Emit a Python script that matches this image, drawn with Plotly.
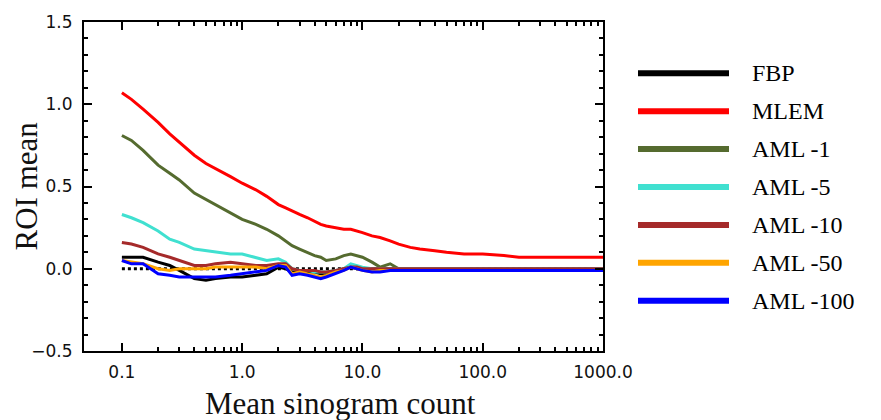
import plotly.graph_objects as go

# ---- data ----
counts = [0.1, 0.12, 0.15, 0.2, 0.25, 0.3, 0.4, 0.5, 0.6, 0.8, 1.0, 1.3, 1.6, 2.0, 2.3, 2.6,
          3.0, 3.5, 4.0, 4.5, 5, 6, 7, 8, 9, 10, 12, 14, 17, 20, 25, 30, 40, 50, 70, 100,
          150, 200, 300, 500, 1000]

fbp = [0.07, 0.07, 0.07, 0.04, 0.02, -0.01, -0.06, -0.07, -0.06, -0.05, -0.05, -0.04, -0.03, 0.01, 0.0, -0.02,
       -0.02, -0.02, -0.02, -0.03, -0.03, -0.02, 0.0, 0.01, 0.0, 0.0, 0.0, 0.0, 0.0, 0.0, 0.0, 0.0, 0.0, 0.0, 0.0, 0.0,
       0.0, 0.0, 0.0, 0.0, 0.0]
mlem = [1.07, 1.03, 0.97, 0.89, 0.82, 0.77, 0.69, 0.64, 0.61, 0.56, 0.52, 0.48, 0.44, 0.39, 0.37, 0.35,
        0.33, 0.31, 0.29, 0.27, 0.26, 0.25, 0.24, 0.24, 0.23, 0.22, 0.20, 0.19, 0.17, 0.15, 0.13, 0.12, 0.11, 0.10, 0.09, 0.09,
        0.08, 0.07, 0.07, 0.07, 0.07]
aml1 = [0.81, 0.78, 0.72, 0.63, 0.58, 0.54, 0.46, 0.42, 0.39, 0.34, 0.30, 0.27, 0.24, 0.20, 0.17, 0.14,
        0.12, 0.10, 0.08, 0.07, 0.05, 0.06, 0.08, 0.09, 0.08, 0.07, 0.04, 0.01, 0.03, 0.0, 0.0, 0.0, 0.0, 0.0, 0.0, -0.01,
        -0.01, -0.01, -0.01, -0.01, -0.01]
aml5 = [0.33, 0.31, 0.28, 0.23, 0.18, 0.16, 0.12, 0.11, 0.10, 0.09, 0.09, 0.07, 0.05, 0.06, 0.04, 0.0,
        -0.01, -0.01, -0.02, -0.02, -0.02, -0.01, 0.0, 0.03, 0.02, 0.01, 0.0, 0.0, 0.0, 0.0, 0.0, 0.0, 0.0, 0.0, 0.0, 0.0,
        0.0, 0.0, 0.0, 0.0, 0.0]
aml10 = [0.16, 0.15, 0.13, 0.09, 0.07, 0.05, 0.02, 0.02, 0.03, 0.04, 0.03, 0.02, 0.02, 0.03, 0.03, 0.0,
         -0.01, -0.01, -0.01, -0.02, -0.02, -0.01, 0.0, 0.01, 0.01, 0.0, 0.0, 0.0, 0.0, 0.0, 0.0, 0.0, 0.0, 0.0, 0.0, 0.0,
         0.0, 0.0, 0.0, 0.0, 0.0]
aml50 = [0.05, 0.04, 0.03, 0.0, -0.01, 0.0, 0.0, 0.0, 0.01, 0.01, 0.01, 0.01, 0.0, 0.02, 0.02, -0.03,
         -0.02, -0.03, -0.04, -0.05, -0.04, -0.02, -0.01, 0.01, 0.0, -0.01, -0.02, -0.01, -0.01, -0.01, -0.01, -0.01, -0.01, -0.01, -0.01, -0.01,
         -0.01, -0.01, -0.01, -0.01, -0.01]
aml100 = [0.05, 0.03, 0.03, -0.03, -0.04, -0.05, -0.05, -0.05, -0.05, -0.04, -0.03, -0.02, -0.01, 0.02, 0.01, -0.04,
          -0.03, -0.04, -0.05, -0.06, -0.05, -0.03, -0.01, 0.01, 0.0, -0.01, -0.02, -0.02, -0.01, -0.01, -0.01, -0.01, -0.01, -0.01, -0.01, -0.01,
          -0.01, -0.01, -0.01, -0.01, -0.01]
truth = [0.0] * len(counts)

names = ["FBP", "MLEM", "AML -1", "AML -5", "AML -10", "AML -50", "AML -100"]
series = [fbp, mlem, aml1, aml5, aml10, aml50, aml100]
colors = ["#000000", "#ff0000", "#556b2f", "#40e0d0", "#a52a2a", "#ffa500", "#0000ff"]

xtick_vals = [0.1, 1, 10, 100, 1000]
xtick_text = ["0.1", "1.0", "10.0", "100.0", "1000.0"]
ytick_vals = [-0.5, 0.0, 0.5, 1.0, 1.5]
ytick_text = ["\u22120.5", "0.0", "0.5", "1.0", "1.5"]

fig = go.Figure()
fig.add_trace(go.Scatter(x=counts, y=truth, mode="lines",
                         line=dict(color="black", width=3, dash="dot"),
                         showlegend=False, hoverinfo="skip"))
for name, ys, c in zip(names, series, colors):
    fig.add_trace(go.Scatter(x=counts, y=ys, mode="lines", name=name,
                             line=dict(color=c, width=3), showlegend=False))

# page geometry
L, R, T, B = 84, 278, 17, 69
W, H = 881, 420
pw, ph = W - L - R, H - T - B


def px_x(px):
    return (px - L) / pw


def px_y(py):
    return 1 - (py - T) / ph


# custom legend (layout elements in paper coordinates)
leg_x0, leg_x1, leg_tx = 638, 729, 750
leg_y0, leg_dy = 69, 38.5
for i, (name, c) in enumerate(zip(names, colors)):
    yp = px_y(leg_y0 + i * leg_dy)
    fig.add_shape(type="line", xref="paper", yref="paper",
                  x0=px_x(leg_x0), x1=px_x(leg_x1), y0=yp, y1=yp,
                  line=dict(color=c, width=6))
    fig.add_annotation(xref="paper", yref="paper", x=px_x(leg_tx), y=yp,
                       text=name, showarrow=False, xanchor="left", yanchor="middle",
                       font=dict(family="Liberation Serif", size=24, color="black"))

# axis titles
title_font = dict(family="Liberation Serif", size=31, color="#111")
fig.add_annotation(xref="paper", yref="paper", x=px_x(340), y=px_y(404),
                   text="Mean sinogram count", showarrow=False,
                   xanchor="center", yanchor="middle", font=title_font)
fig.add_annotation(xref="paper", yref="paper", x=px_x(26), y=px_y(184),
                   text="ROI mean", showarrow=False, textangle=-90,
                   xanchor="center", yanchor="middle", font=title_font)

axis_font = dict(family="DejaVu Sans", size=17, color="#111")
fig.update_layout(
    width=W, height=H,
    margin=dict(l=L, r=R, t=T, b=B),
    paper_bgcolor="white", plot_bgcolor="white",
    xaxis=dict(type="log", range=[-1.315, 3],
               tickvals=xtick_vals, ticktext=xtick_text,
               ticks="inside", ticklen=8, tickwidth=1.5, tickcolor="black",
               showline=True, linecolor="black", linewidth=2, mirror="allticks",
               showgrid=False, zeroline=False, tickfont=axis_font,
               ticklabelstandoff=5,
               minor=dict(tickvals=[v * m for v in [0.1, 1, 10, 100] for m in range(2, 10)],
                          ticks="inside", ticklen=4, tickcolor="black", showgrid=False)),
    yaxis=dict(range=[-0.5, 1.5], tickvals=ytick_vals, ticktext=ytick_text,
               ticks="inside", ticklen=8, tickwidth=1.5, tickcolor="black",
               showline=True, linecolor="black", linewidth=2, mirror="allticks",
               showgrid=False, zeroline=False, tickfont=axis_font,
               ticklabelstandoff=6,
               minor=dict(dtick=0.1, ticks="inside", ticklen=4, tickcolor="black", showgrid=False)),
)

fig.write_html("out.html")
